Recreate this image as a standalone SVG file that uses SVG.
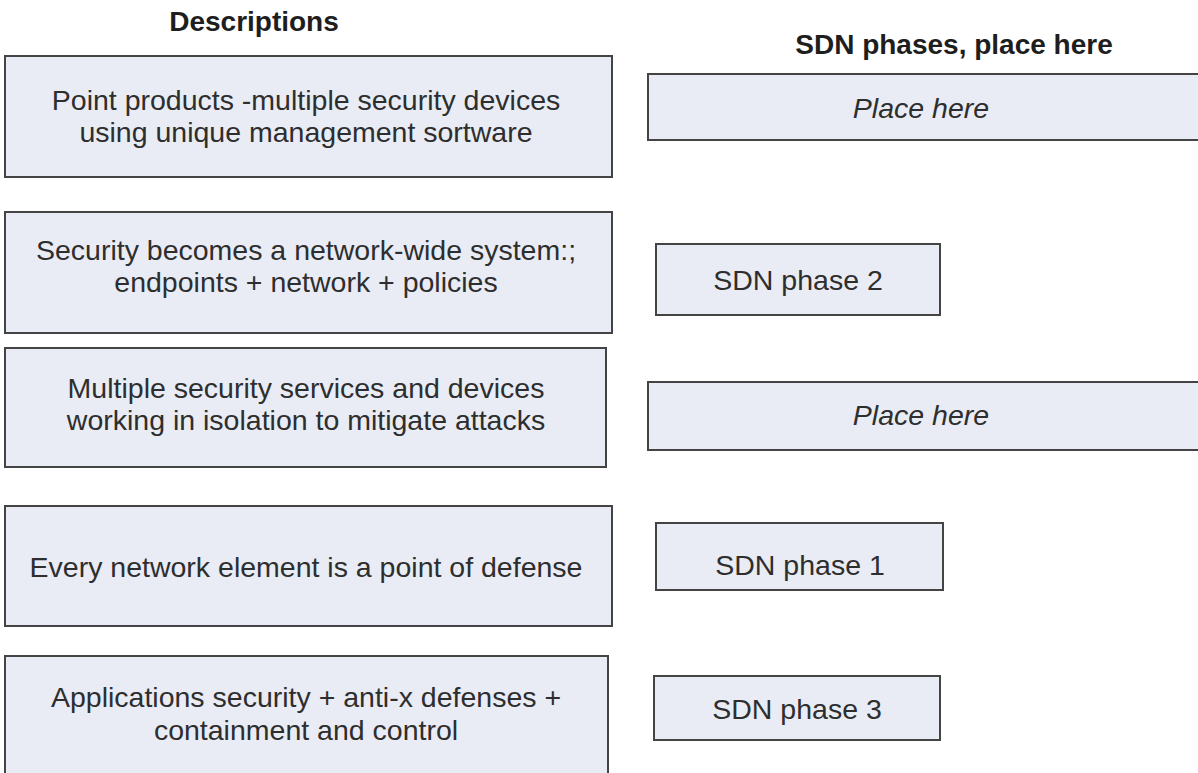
<svg xmlns="http://www.w3.org/2000/svg" width="1198" height="773" viewBox="0 0 1198 773">
<style>
.box{fill:#e9ecf5;stroke:#444444;stroke-width:2}
.t{font-family:"Liberation Sans",Arial,sans-serif;font-size:28.5px;fill:#2e2e2e;text-anchor:middle}
.i{font-style:italic}
.h{font-family:"Liberation Sans",Arial,sans-serif;font-size:28px;font-weight:bold;fill:#1e1e1e;text-anchor:middle}
</style>
<rect width="1198" height="773" fill="#ffffff"/>
<text class="h" x="254" y="31">Descriptions</text>
<text class="h" x="954" y="54">SDN phases, place here</text>
<g id="d1"><rect class="box" x="5" y="56" width="607" height="121"/><text class="t" x="306" y="110">Point products -multiple security devices</text><text class="t" x="306" y="142">using unique management sortware</text></g>
<g id="d2"><rect class="box" x="5" y="212" width="607" height="121"/><text class="t" x="306" y="260">Security becomes a network-wide system:;</text><text class="t" x="306" y="292">endpoints + network + policies</text></g>
<g id="d3"><rect class="box" x="5" y="348" width="601" height="119"/><text class="t" x="306" y="398">Multiple security services and devices</text><text class="t" x="306" y="430">working in isolation to mitigate attacks</text></g>
<g id="d4"><rect class="box" x="5" y="506" width="607" height="120"/><text class="t" x="306" y="577">Every network element is a point of defense</text></g>
<g id="d5"><rect class="box" x="5" y="656" width="603" height="130"/><text class="t" x="306" y="707">Applications security + anti-x defenses +</text><text class="t" x="306" y="740">containment and control</text></g>
<g id="p1"><rect class="box" x="648" y="74" width="560" height="66"/><text class="t i" x="921" y="118">Place here</text></g>
<g id="s2"><rect class="box" x="656" y="244" width="284" height="71"/><text class="t" x="798" y="290">SDN phase 2</text></g>
<g id="p2"><rect class="box" x="648" y="382" width="560" height="68"/><text class="t i" x="921" y="425">Place here</text></g>
<g id="s1"><rect class="box" x="656" y="523" width="287" height="67"/><text class="t" x="800" y="575">SDN phase 1</text></g>
<g id="s3"><rect class="box" x="654" y="676" width="286" height="64"/><text class="t" x="797" y="719">SDN phase 3</text></g>
<g id="connectors"></g>
</svg>
